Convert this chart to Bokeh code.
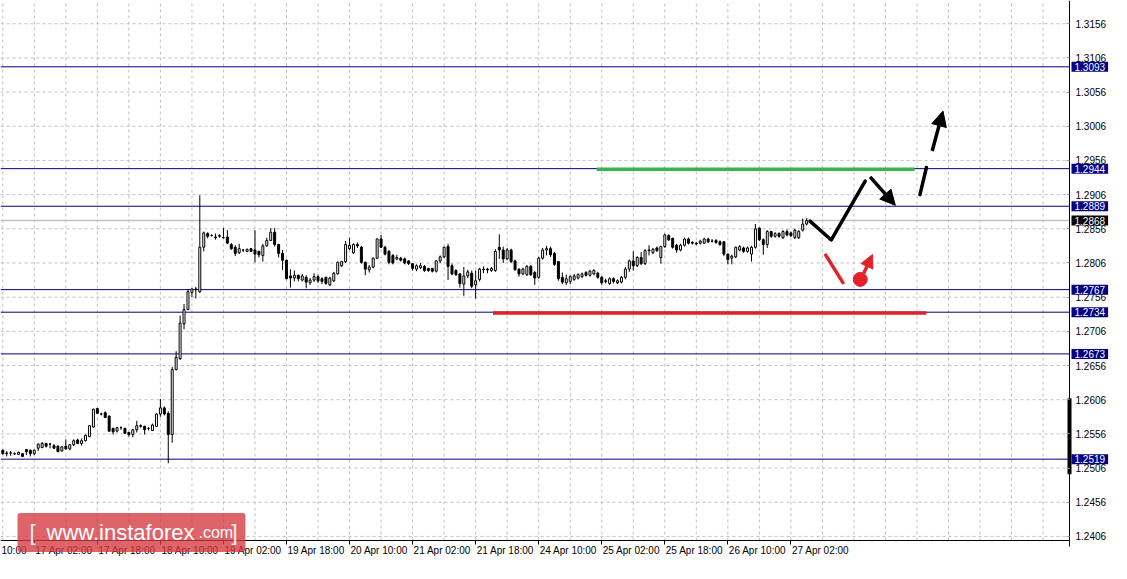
import numpy as np
import pandas as pd
from bokeh.plotting import figure
from bokeh.models import (Range1d, FixedTicker, PrintfTickFormatter, LinearAxis,
                          Label, Arrow, NormalHead, ColumnDataSource)
from bokeh.core.properties import value
from bokeh.embed import file_html
from bokeh.resources import INLINE

# ---------------- data (GBPUSD H1) ----------------
opens = [1.2532, 1.2527, 1.2528, 1.2527, 1.2526, 1.2527, 1.2533, 1.2532, 1.2527, 1.2535,
         1.2536, 1.2542, 1.2541, 1.2539, 1.2538, 1.2531, 1.2538, 1.2534, 1.2540, 1.2547,
         1.2542, 1.2546, 1.2552, 1.2566, 1.2593, 1.2585, 1.2587, 1.2582, 1.2564, 1.2560,
         1.2565, 1.2564, 1.2558, 1.2555, 1.2562, 1.2568, 1.2567, 1.2564, 1.2561, 1.2567,
         1.2585, 1.2594, 1.2586, 1.2555, 1.2650, 1.2666, 1.2717, 1.2738, 1.2763, 1.2767,
         1.2764, 1.2829, 1.2849, 1.2846, 1.2844, 1.2845, 1.2843, 1.2844, 1.2833, 1.2829,
         1.2821, 1.2825, 1.2823, 1.2827, 1.2825, 1.2823, 1.2817, 1.2831, 1.2839, 1.2851,
         1.2833, 1.2820, 1.2810, 1.2787, 1.2784, 1.2788, 1.2781, 1.2785, 1.2777, 1.2781,
         1.2786, 1.2783, 1.2785, 1.2774, 1.2780, 1.2790, 1.2802, 1.2808, 1.2827, 1.2821,
         1.2833, 1.2829, 1.2807, 1.2796, 1.2800, 1.2813, 1.2841, 1.2829, 1.2823, 1.2817,
         1.2812, 1.2813, 1.2812, 1.2809, 1.2805, 1.2797, 1.2799, 1.2801, 1.2798, 1.2798,
         1.2794, 1.2809, 1.2815, 1.2830, 1.2802, 1.2795, 1.2790, 1.2775, 1.2787, 1.2791,
         1.2774, 1.2782, 1.2796, 1.2797, 1.2795, 1.2795, 1.2829, 1.2825, 1.2812, 1.2825,
         1.2809, 1.2797, 1.2790, 1.2789, 1.2801, 1.2792, 1.2785, 1.2813, 1.2825, 1.2827,
         1.2820, 1.2808, 1.2785, 1.2777, 1.2779, 1.2782, 1.2784, 1.2786, 1.2792, 1.2788,
         1.2790, 1.2791, 1.2785, 1.2780, 1.2776, 1.2783, 1.2777, 1.2778, 1.2785, 1.2797,
         1.2809, 1.2802, 1.2814, 1.2805, 1.2824, 1.2821, 1.2828, 1.2814, 1.2830, 1.2846,
         1.2842, 1.2832, 1.2825, 1.2832, 1.2841, 1.2836, 1.2835, 1.2835, 1.2835, 1.2841,
         1.2838, 1.2839, 1.2837, 1.2837, 1.2819, 1.2813, 1.2815, 1.2825, 1.2828, 1.2823,
         1.2819, 1.2829, 1.2857, 1.2840, 1.2833, 1.2852, 1.2845, 1.2849, 1.2843, 1.2852,
         1.2850, 1.2843, 1.2843, 1.2854, 1.2863]
highs = [1.2533, 1.2531, 1.2531, 1.2529, 1.2530, 1.2528, 1.2533, 1.2533, 1.2533, 1.2542,
         1.2544, 1.2543, 1.2543, 1.2541, 1.2539, 1.2538, 1.2548, 1.2541, 1.2548, 1.2549,
         1.2549, 1.2555, 1.2569, 1.2593, 1.2594, 1.2587, 1.2589, 1.2583, 1.2565, 1.2566,
         1.2567, 1.2565, 1.2559, 1.2563, 1.2575, 1.2570, 1.2568, 1.2566, 1.2571, 1.2586,
         1.2607, 1.2596, 1.2589, 1.2654, 1.2677, 1.2729, 1.2746, 1.2768, 1.2769, 1.2771,
         1.2905, 1.2852, 1.2851, 1.2848, 1.2849, 1.2848, 1.2857, 1.2854, 1.2835, 1.2832,
         1.2834, 1.2826, 1.2827, 1.2828, 1.2854, 1.2824, 1.2834, 1.2843, 1.2857, 1.2857,
         1.2834, 1.2825, 1.2811, 1.2797, 1.2795, 1.2789, 1.2790, 1.2788, 1.2784, 1.2791,
         1.2789, 1.2785, 1.2786, 1.2786, 1.2793, 1.2808, 1.2809, 1.2838, 1.2843, 1.2835,
         1.2836, 1.2831, 1.2808, 1.2803, 1.2814, 1.2842, 1.2847, 1.2831, 1.2825, 1.2819,
         1.2818, 1.2815, 1.2814, 1.2810, 1.2806, 1.2804, 1.2806, 1.2803, 1.2799, 1.2799,
         1.2810, 1.2817, 1.2830, 1.2834, 1.2805, 1.2797, 1.2791, 1.2800, 1.2796, 1.2795,
         1.2795, 1.2799, 1.2801, 1.2799, 1.2800, 1.2826, 1.2848, 1.2830, 1.2828, 1.2827,
         1.2811, 1.2798, 1.2799, 1.2803, 1.2803, 1.2794, 1.2815, 1.2828, 1.2831, 1.2830,
         1.2822, 1.2809, 1.2792, 1.2789, 1.2788, 1.2790, 1.2791, 1.2792, 1.2794, 1.2796,
         1.2797, 1.2793, 1.2787, 1.2783, 1.2785, 1.2785, 1.2782, 1.2787, 1.2800, 1.2811,
         1.2823, 1.2816, 1.2822, 1.2826, 1.2832, 1.2828, 1.2830, 1.2831, 1.2849, 1.2848,
         1.2843, 1.2834, 1.2834, 1.2843, 1.2843, 1.2838, 1.2837, 1.2840, 1.2843, 1.2843,
         1.2841, 1.2841, 1.2839, 1.2838, 1.2820, 1.2818, 1.2830, 1.2832, 1.2830, 1.2830,
         1.2831, 1.2863, 1.2858, 1.2842, 1.2854, 1.2853, 1.2851, 1.2851, 1.2854, 1.2855,
         1.2852, 1.2856, 1.2854, 1.2871, 1.2872]
lows = [1.2526, 1.2523, 1.2524, 1.2525, 1.2525, 1.2522, 1.2525, 1.2523, 1.2525, 1.2531,
        1.2535, 1.2536, 1.2535, 1.2534, 1.2529, 1.2530, 1.2533, 1.2532, 1.2538, 1.2541,
        1.2539, 1.2545, 1.2551, 1.2565, 1.2585, 1.2583, 1.2579, 1.2559, 1.2555, 1.2558,
        1.2562, 1.2556, 1.2552, 1.2551, 1.2558, 1.2565, 1.2555, 1.2561, 1.2560, 1.2566,
        1.2581, 1.2583, 1.2513, 1.2543, 1.2649, 1.2664, 1.2709, 1.2737, 1.2756, 1.2754,
        1.2762, 1.2823, 1.2842, 1.2845, 1.2840, 1.2843, 1.2842, 1.2834, 1.2825, 1.2816,
        1.2819, 1.2822, 1.2822, 1.2822, 1.2807, 1.2814, 1.2808, 1.2830, 1.2838, 1.2830,
        1.2814, 1.2796, 1.2782, 1.2770, 1.2779, 1.2779, 1.2779, 1.2769, 1.2774, 1.2778,
        1.2777, 1.2775, 1.2774, 1.2772, 1.2778, 1.2789, 1.2800, 1.2806, 1.2825, 1.2819,
        1.2828, 1.2805, 1.2788, 1.2792, 1.2798, 1.2812, 1.2828, 1.2817, 1.2804, 1.2804,
        1.2810, 1.2808, 1.2804, 1.2803, 1.2795, 1.2794, 1.2797, 1.2793, 1.2793, 1.2792,
        1.2792, 1.2806, 1.2813, 1.2781, 1.2788, 1.2787, 1.2770, 1.2758, 1.2784, 1.2769,
        1.2754, 1.2779, 1.2791, 1.2791, 1.2793, 1.2793, 1.2812, 1.2806, 1.2810, 1.2806,
        1.2795, 1.2786, 1.2788, 1.2787, 1.2787, 1.2774, 1.2783, 1.2811, 1.2817, 1.2815,
        1.2802, 1.2780, 1.2775, 1.2774, 1.2775, 1.2780, 1.2782, 1.2784, 1.2786, 1.2786,
        1.2788, 1.2783, 1.2774, 1.2776, 1.2774, 1.2776, 1.2775, 1.2776, 1.2782, 1.2793,
        1.2795, 1.2800, 1.2803, 1.2803, 1.2817, 1.2819, 1.2822, 1.2805, 1.2828, 1.2838,
        1.2827, 1.2821, 1.2823, 1.2830, 1.2833, 1.2833, 1.2832, 1.2833, 1.2834, 1.2835,
        1.2836, 1.2834, 1.2831, 1.2816, 1.2804, 1.2804, 1.2813, 1.2823, 1.2821, 1.2821,
        1.2808, 1.2827, 1.2838, 1.2818, 1.2828, 1.2843, 1.2843, 1.2843, 1.2841, 1.2845,
        1.2844, 1.2841, 1.2841, 1.2852, 1.2861]
closes = [1.2527, 1.2528, 1.2528, 1.2527, 1.2529, 1.2523, 1.2530, 1.2527, 1.2532, 1.2541,
          1.2542, 1.2538, 1.2541, 1.2535, 1.2530, 1.2537, 1.2534, 1.2540, 1.2546, 1.2542,
          1.2546, 1.2554, 1.2568, 1.2592, 1.2586, 1.2585, 1.2580, 1.2560, 1.2559, 1.2565,
          1.2565, 1.2557, 1.2555, 1.2562, 1.2568, 1.2567, 1.2562, 1.2564, 1.2569, 1.2585,
          1.2594, 1.2585, 1.2555, 1.2650, 1.2668, 1.2718, 1.2738, 1.2764, 1.2768, 1.2768,
          1.2829, 1.2850, 1.2845, 1.2846, 1.2843, 1.2846, 1.2843, 1.2835, 1.2827, 1.2820,
          1.2827, 1.2825, 1.2826, 1.2823, 1.2819, 1.2818, 1.2831, 1.2839, 1.2851, 1.2833,
          1.2820, 1.2810, 1.2783, 1.2784, 1.2788, 1.2783, 1.2787, 1.2778, 1.2781, 1.2786,
          1.2780, 1.2779, 1.2776, 1.2784, 1.2791, 1.2807, 1.2808, 1.2833, 1.2832, 1.2833,
          1.2831, 1.2807, 1.2797, 1.2800, 1.2813, 1.2841, 1.2829, 1.2819, 1.2807, 1.2806,
          1.2814, 1.2810, 1.2806, 1.2805, 1.2798, 1.2802, 1.2802, 1.2795, 1.2795, 1.2794,
          1.2809, 1.2815, 1.2829, 1.2801, 1.2790, 1.2789, 1.2776, 1.2787, 1.2793, 1.2772,
          1.2780, 1.2797, 1.2797, 1.2796, 1.2798, 1.2823, 1.2825, 1.2812, 1.2825, 1.2808,
          1.2796, 1.2790, 1.2797, 1.2801, 1.2789, 1.2784, 1.2813, 1.2825, 1.2827, 1.2818,
          1.2804, 1.2783, 1.2778, 1.2783, 1.2786, 1.2787, 1.2789, 1.2790, 1.2788, 1.2794,
          1.2795, 1.2785, 1.2777, 1.2779, 1.2783, 1.2779, 1.2780, 1.2785, 1.2797, 1.2809,
          1.2802, 1.2814, 1.2805, 1.2824, 1.2825, 1.2826, 1.2824, 1.2830, 1.2847, 1.2840,
          1.2829, 1.2825, 1.2832, 1.2841, 1.2835, 1.2835, 1.2834, 1.2838, 1.2841, 1.2837,
          1.2838, 1.2836, 1.2833, 1.2819, 1.2811, 1.2816, 1.2829, 1.2830, 1.2823, 1.2828,
          1.2829, 1.2856, 1.2840, 1.2833, 1.2852, 1.2845, 1.2849, 1.2845, 1.2852, 1.2847,
          1.2846, 1.2854, 1.2852, 1.2863, 1.2868]

time_tick_bars = [8, 24, 40, 56, 72, 88, 104, 120, 136, 152, 168, 184, 200]
time_tick_labels = ["17 Apr 02:00", "17 Apr 18:00", "18 Apr 10:00", "19 Apr 02:00",
                    "19 Apr 18:00", "20 Apr 10:00", "21 Apr 02:00", "21 Apr 18:00",
                    "24 Apr 10:00", "25 Apr 02:00", "25 Apr 18:00", "26 Apr 10:00",
                    "27 Apr 02:00"]
cut_label = "10:00"          # tail of the "16 Apr 10:00" label cut by the left edge
price_ticks = [1.2406, 1.2456, 1.2506, 1.2556, 1.2606, 1.2656, 1.2706, 1.2756,
               1.2806, 1.2856, 1.2906, 1.2956, 1.3006, 1.3056, 1.3106, 1.3156]
level_values = [1.3093, 1.2944, 1.2889, 1.2767, 1.2734, 1.2673, 1.2519]
bid_price = 1.2868

green_x = [150.7, 231.4]
green_level = 1.2943
red_x = [124.4, 234.4]
red_level = 1.2733

path_x = [204.85, 210.25, 218.85]
path_y = [1.28672, 1.28397, 1.29259]
arrow1_x = [220.1, 226.5]
arrow1_y = [1.2932, 1.28904]
dash_x = [232.75, 234.4]
dash_y = [1.2906, 1.29458]
arrow2_x = [235.85, 238.6]
arrow2_y = [1.29699, 1.30282]
red_seg_x = [208.85, 213.2]
red_seg_y = [1.28175, 1.27772]
red_dot_x = [217.6]
red_dot_y = [1.2782]
red_arrow_x = [218.5, 220.7]
red_arrow_y = [1.2791, 1.28184]
axis_marker = [1.2608, 1.2497]

# ---------------- geometry ----------------
W, H = 1111, 563
X0, AXIS_X = -0.575, 270.7            # left edge / price-scale line (bar index)
PXB = (W - 42) / (AXIS_X - X0)          # px per bar
X_END = X0 + W / PXB
Y_AX, Y1 = 1.2400, 1.3190               # time-scale line / top edge (price)
PXU = (H - 23) / (Y1 - Y_AX)            # px per price unit
Y_BOT = Y_AX - 23 / PXU
FONT = "Liberation Sans"
GRID = "#c0c0c0"
NAVY = "#000080"
RED = "#e3212b"

n = len(closes)
df = pd.DataFrame(dict(x=np.arange(n), o=opens, h=highs, l=lows, c=closes))
df["top"] = df[["o", "c"]].max(axis=1)
df["bot"] = df[["o", "c"]].min(axis=1)
df["fill"] = np.where(df["c"] < df["o"], "black", "white")
src = ColumnDataSource(df)

p = figure(width=W, height=H, x_range=Range1d(X0, X_END), y_range=Range1d(Y_BOT, Y1),
           output_backend="svg", toolbar_location=None,
           x_axis_location=None, y_axis_location=None,
           min_border_left=0, min_border_top=0, min_border_right=0, min_border_bottom=0,
           outline_line_color=None, background_fill_color="white",
           border_fill_color="white")
p.grid.visible = False

# dashed grid, stopping at the two scales
gx = list(range(0, int(AXIS_X), 8))
p.segment(x0=gx, y0=[Y_AX] * len(gx), x1=gx, y1=[Y1] * len(gx),
          line_color=GRID, line_dash="3 3", line_width=1)
p.segment(x0=[X0] * len(price_ticks), y0=price_ticks, x1=[AXIS_X] * len(price_ticks),
          y1=price_ticks, line_color=GRID, line_dash="3 3", line_width=1)

# price scale (right)
ya = LinearAxis(fixed_location=AXIS_X, ticker=FixedTicker(ticks=price_ticks),
                formatter=PrintfTickFormatter(format="%.4f"),
                bounds=(Y_AX - 6 / PXU, Y1),
                major_label_text_font=FONT, major_label_text_font_size="10px",
                major_label_text_color="black", major_label_standoff=6,
                major_tick_in=3, major_tick_out=0, major_tick_line_color="#a0a0a0",
                minor_tick_line_color=None, axis_line_color="black")
p.add_layout(ya, "right")

# time scale (bottom): line + ticks
xa = LinearAxis(fixed_location=Y_AX, ticker=FixedTicker(ticks=time_tick_bars),
                bounds=(X0, AXIS_X), major_label_text_color=None,
                major_tick_out=4, major_tick_in=0, major_tick_line_color="black",
                minor_tick_line_color=None, axis_line_color="black")
p.add_layout(xa, "below")

# time labels start at their tick, as MT4 draws them
p.text(x=time_tick_bars, y=[Y_AX - 4 / PXU] * len(time_tick_bars), text=time_tick_labels,
       x_offset=1, text_align="left", text_baseline="top", text_font=value(FONT),
       text_font_size="10px", text_color="black")
p.text(x=[X0], y=[Y_AX - 4 / PXU], text=[cut_label], x_offset=1, text_align="left",
       text_baseline="top", text_font=value(FONT), text_font_size="10px", text_color="black")

# horizontal levels and bid line
p.segment(x0=[X0] * len(level_values), y0=level_values, x1=[AXIS_X] * len(level_values),
          y1=level_values, line_color=NAVY, line_width=1)
p.segment(x0=[X0], y0=[bid_price], x1=[AXIS_X], y1=[bid_price],
          line_color="#c0c0c0", line_width=1.5)

# candles
p.segment(x0="x", y0="l", x1="x", y1="h", source=src, line_color="black", line_width=1)
p.vbar(x="x", width=0.5, top="top", bottom="bot", source=src, fill_color="fill",
       line_color="black", line_width=1)

# target lines
p.segment(x0=[green_x[0]], y0=[green_level], x1=[green_x[1]], y1=[green_level],
          line_color="#35b44f", line_width=3.5)
p.segment(x0=[red_x[0]], y0=[red_level], x1=[red_x[1]], y1=[red_level],
          line_color=RED, line_width=3.5)

# forecast path (black)
p.line(path_x, path_y, line_color="black", line_width=3.5, line_join="round", line_cap="round")
p.add_layout(Arrow(end=NormalHead(size=15, fill_color="black", line_color="black"),
                   x_start=arrow1_x[0], y_start=arrow1_y[0], x_end=arrow1_x[1], y_end=arrow1_y[1],
                   line_color="black", line_width=3.5))
p.line(dash_x, dash_y, line_color="black", line_width=3.5, line_cap="round")
p.add_layout(Arrow(end=NormalHead(size=15, fill_color="black", line_color="black"),
                   x_start=arrow2_x[0], y_start=arrow2_y[0], x_end=arrow2_x[1], y_end=arrow2_y[1],
                   line_color="black", line_width=3.5))

# alternative scenario (red)
p.line(red_seg_x, red_seg_y, line_color=RED, line_width=3.5, line_cap="round")
p.scatter(red_dot_x, red_dot_y, size=14, color=RED)
p.add_layout(Arrow(end=NormalHead(size=13, fill_color=RED, line_color=RED),
                   x_start=red_arrow_x[0], y_start=red_arrow_y[0], x_end=red_arrow_x[1],
                   y_end=red_arrow_y[1], line_color=RED, line_width=3.5))

# marker on the price scale
p.segment(x0=[AXIS_X], y0=[axis_marker[0]], x1=[AXIS_X], y1=[axis_marker[1]],
          line_color="black", line_width=4)

# price boxes on the scale
for v in level_values:
    p.add_layout(Label(x=AXIS_X, y=v, x_offset=2, text=f"{v:.4f}", text_baseline="middle",
                       text_align="left", text_font=FONT, text_font_size="10px",
                       text_color="white", background_fill_color=NAVY,
                       padding=dict(left=3, right=3, top=1, bottom=1)))
p.add_layout(Label(x=AXIS_X, y=bid_price, x_offset=2, text=f"{bid_price:.4f}",
                   text_baseline="middle", text_align="left", text_font=FONT,
                   text_font_size="10px", text_color="white", background_fill_color="black",
                   padding=dict(left=3, right=3, top=1, bottom=1)))

# watermark logo
LOGO_Y = 31
p.add_layout(Label(x=17, y=LOGO_Y, x_units="screen", y_units="screen", text="www.instaforex",
                   text_baseline="alphabetic", text_align="left", text_font=FONT,
                   text_font_size="22px", text_color="white",
                   background_fill_color="#d6383f", background_fill_alpha=0.78,
                   padding=dict(left=29, right=51, top=7, bottom=7), border_radius=3))
p.add_layout(Label(x=29, y=LOGO_Y, x_units="screen", y_units="screen", text="[",
                   text_baseline="alphabetic", text_align="left", text_font=FONT,
                   text_font_size="22px", text_color="#eeeeee"))
p.add_layout(Label(x=198, y=LOGO_Y, x_units="screen", y_units="screen", text=".com",
                   text_baseline="alphabetic", text_align="left", text_font=FONT,
                   text_font_size="16px", text_color="white"))
p.add_layout(Label(x=231, y=LOGO_Y, x_units="screen", y_units="screen", text="]",
                   text_baseline="alphabetic", text_align="left", text_font=FONT,
                   text_font_size="22px", text_color="#eeeeee"))

open("out.html", "w").write(file_html(p, INLINE))
